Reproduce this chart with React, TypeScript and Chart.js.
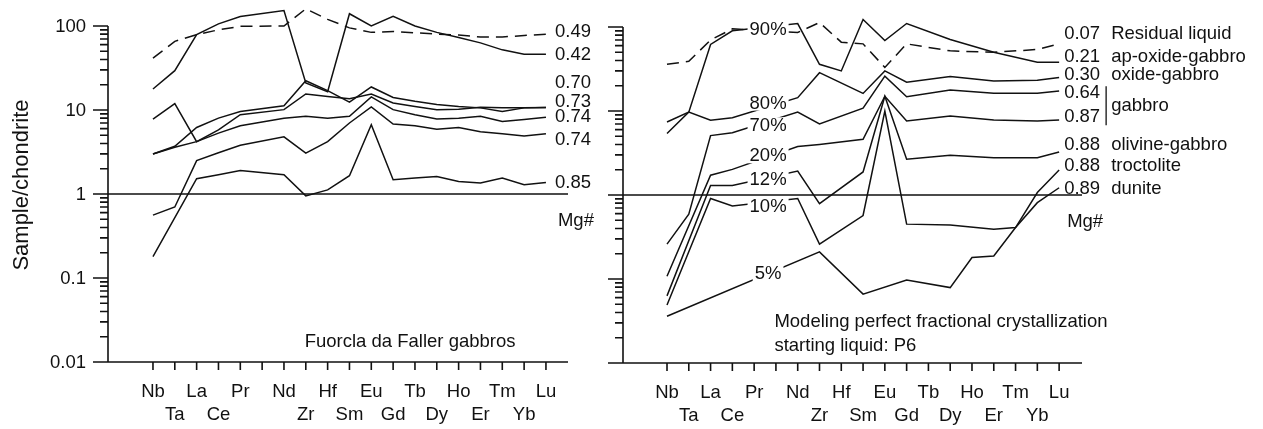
import React, { useEffect, useRef } from "react";
import { Chart, registerables } from "chart.js";

Chart.register(...registerables);

const FONT = '"Liberation Sans", Arial, Helvetica, sans-serif';
const INK = "#111111";

// ---------- shared axis data ----------
const elements = ["Nb", "Ta", "La", "Ce", "Pr", "", "Nd", "Zr", "Hf", "Sm", "Eu", "Gd", "Tb", "Dy", "Ho", "Er", "Tm", "Yb", "Lu"];
const yTickValues = [0.01, 0.1, 1, 10, 100];
const yTickLabels = ["0.01", "0.1", "1", "10", "100"];
const yTitle = "Sample/chondrite";

// ---------- left panel: Fuorcla da Faller gabbros ----------
const leftTitle = "Fuorcla da Faller gabbros";
const leftMg049 = [41.5, 65.6, 79, 90, 99, null, 100, 160, 120, 95, 84, 86, 83, 80, 78, 74, 74, 77, 80];
const leftMg042 = [17.8, 29.4, 79, 106, 130, null, 153, 21, 16.5, 140, 100, 130, 100, 84, 73, 63, 52, 46, 46];
const leftMg070 = [3.0, 3.7, 6.2, 8.0, 9.6, null, 11.2, 22.3, 17, 12.4, 18.8, 14.1, 12.7, 11.6, 11.0, 10.6, 9.6, 10.6, 10.7];
const leftMg073 = [7.8, 11.9, 4.2, 5.8, 8.8, null, 10.1, 15.5, 14.5, 13.6, 15.5, 12.1, 11.0, 10.1, 10.2, 10.8, 10.6, 10.6, 10.7];
const leftMg074a = [3.0, 3.6, 4.2, 5.3, 6.5, null, 8.0, 8.4, 8.0, 8.4, 14.3, 10.1, 8.8, 7.8, 8.0, 8.4, 7.3, 7.7, 8.2];
const leftMg074b = [0.56, 0.7, 2.5, 3.1, 3.8, null, 4.8, 3.07, 4.2, 7.0, 10.9, 6.8, 6.5, 5.9, 6.2, 5.5, 5.2, 4.9, 5.2];
const leftMg085 = [0.18, null, 1.52, 1.7, 1.91, null, 1.7, 0.95, 1.12, 1.65, 6.7, 1.48, 1.55, 1.62, 1.41, 1.35, 1.55, 1.29, 1.37];
const leftMgLabels = ["0.49", "0.42", "0.70", "0.73", "0.74", "0.74", "0.85"];
const leftMgLabelAt = [84, 45.5, 21.1, 12.6, 8.3, 4.43, 1.36];

// ---------- right panel: modelled fractional crystallization ----------
const rightTitle1 = "Modeling perfect fractional crystallization";
const rightTitle2 = "starting liquid: P6";
const rightResidual = [36, 39, 70, 95, null, null, 86, 113, 66, 63, 33, 63, null, 52, null, 50, null, 54, 63];
const right90 = [5.4, 9.7, 62, 90, null, null, 110, 36, 30, 123, 69, 110, null, 71, null, 50, null, 38, 38];
const right80 = [7.4, 9.7, 7.75, 8.3, null, null, 14.4, 28.6, null, 16.2, 30, 22, null, 25.7, null, 22.8, null, 23.2, 25];
const right70 = [0.26, 0.59, 5.1, 5.5, null, null, 9.7, 7.0, null, 10.8, 26, 14.8, null, 17.8, null, 16.3, null, 16.3, 17.3];
const right20 = [0.108, null, 1.72, 2.02, null, null, 3.77, 4.0, null, 4.6, 15, 7.6, null, 8.7, null, 7.8, null, 7.6, 7.8];
const right12 = [0.063, null, 1.3, 1.3, null, null, 1.93, 0.79, null, 1.88, 15, 2.66, null, 2.97, null, 2.78, null, 2.78, 3.25];
const right10 = [0.049, null, 0.91, 0.74, null, null, 0.91, 0.26, null, 0.57, 10, 0.45, null, 0.44, null, 0.39, 0.41, 0.81, 1.22];
const right05 = [0.036, null, null, null, null, null, null, 0.21, null, 0.066, null, 0.097, null, 0.079, 0.18, 0.188, 0.41, 1.07, 1.98];
const pctLabels = ["90%", "80%", "70%", "20%", "12%", "10%", "5%"];
const pctLabelAt = [95.7, 12.6, 6.76, 2.97, 1.54, 0.74, 0.117];
const pctLabelIndex = 4.64;
const rightMgNumbers = ["0.07", "0.21", "0.30", "0.64", "0.87", "0.88", "0.88", "0.89"];
const rightMgNames = ["Residual liquid", "ap-oxide-gabbro", "oxide-gabbro", "", "", "olivine-gabbro", "troctolite", "dunite"];
const rightMgAt = [81.9, 43.6, 26.6, 16.2, 8.41, 3.9, 2.2, 1.17];
const gabbroLabel = "gabbro";
const gabbroAt = 11.4;
const gabbroBracket = [19.7, 6.76];
const mgTitle = "Mg#";
const mgTitleAt = 0.48;

type Series = { values: (number | null)[]; dashed?: boolean };

function buildDatasets(series: Series[]) {
  return series.map((s) => ({
    data: s.values
      .map((v, i) => (v == null ? null : { x: i, y: v }))
      .filter((p) => p !== null),
    borderColor: INK,
    borderWidth: 1.5,
    borderDash: s.dashed ? [12, 7] : [],
    pointRadius: 0,
    fill: false,
    tension: 0,
    clip: false as any,
  }));
}

function drawFrame(chart: any, showTickLabels: boolean) {
  const { ctx, chartArea } = chart;
  const { left, right, bottom } = chartArea;
  const x = chart.scales.x;
  const y = chart.scales.y;
  ctx.save();
  ctx.strokeStyle = INK;
  ctx.lineWidth = 1.6;
  ctx.beginPath();
  const yTop = y.getPixelForValue(yTickValues[yTickValues.length - 1]);
  const yBot = y.getPixelForValue(yTickValues[0]);
  ctx.moveTo(left, yTop);
  ctx.lineTo(left, yBot);
  ctx.moveTo(left, yBot);
  ctx.lineTo(right, yBot);
  yTickValues.forEach((v) => {
    const p = y.getPixelForValue(v);
    ctx.moveTo(left - 15, p);
    ctx.lineTo(left, p);
  });
  for (let d = 0; d < yTickValues.length - 1; d++) {
    for (let k = 2; k <= 9; k++) {
      const p = y.getPixelForValue(yTickValues[d] * k);
      ctx.moveTo(left - 8, p);
      ctx.lineTo(left, p);
    }
  }
  elements.forEach((_, i) => {
    const p = x.getPixelForValue(i);
    ctx.moveTo(p, bottom);
    ctx.lineTo(p, bottom + 8);
  });
  const p1 = y.getPixelForValue(1);
  ctx.moveTo(left, p1);
  ctx.lineTo(right, p1);
  ctx.stroke();

  ctx.fillStyle = INK;
  ctx.font = `18.5px ${FONT}`;
  ctx.textAlign = "center";
  ctx.textBaseline = "middle";
  elements.forEach((e, i) => {
    if (!e) return;
    ctx.fillText(e, x.getPixelForValue(i), i % 2 === 0 ? bottom + 30 : bottom + 53);
  });
  if (showTickLabels) {
    ctx.textAlign = "right";
    yTickValues.forEach((v, i) => {
      ctx.fillText(yTickLabels[i], left - 22, y.getPixelForValue(v) + 1);
    });
    ctx.save();
    ctx.font = `22px ${FONT}`;
    ctx.textAlign = "center";
    ctx.translate(22, 185);
    ctx.rotate(-Math.PI / 2);
    ctx.fillText(yTitle, 0, 0);
    ctx.restore();
  }
  ctx.restore();
}

const leftPlugin = {
  id: "leftDecor",
  afterDatasetsDraw(chart: any) {
    drawFrame(chart, true);
    const { ctx } = chart;
    const x = chart.scales.x;
    const y = chart.scales.y;
    ctx.save();
    ctx.fillStyle = INK;
    ctx.font = `18.5px ${FONT}`;
    ctx.textAlign = "left";
    ctx.textBaseline = "middle";
    const lx = x.getPixelForValue(elements.length - 1) + 9;
    leftMgLabels.forEach((t, i) => ctx.fillText(t, lx, y.getPixelForValue(leftMgLabelAt[i])));
    ctx.fillText(mgTitle, lx + 3, y.getPixelForValue(mgTitleAt));
    ctx.fillText(leftTitle, x.getPixelForValue(6.95), chart.chartArea.bottom - 20);
    ctx.restore();
  },
};

const rightPlugin = {
  id: "rightDecor",
  afterDatasetsDraw(chart: any) {
    drawFrame(chart, false);
    const { ctx } = chart;
    const x = chart.scales.x;
    const y = chart.scales.y;
    ctx.save();
    ctx.font = `18.5px ${FONT}`;
    ctx.textBaseline = "middle";
    // percentage labels interrupting the curves
    ctx.textAlign = "center";
    const px = x.getPixelForValue(pctLabelIndex);
    pctLabels.forEach((t, i) => {
      const py = y.getPixelForValue(pctLabelAt[i]);
      const w = ctx.measureText(t).width;
      ctx.fillStyle = "#ffffff";
      ctx.fillRect(px - w / 2 - 2, py - 8, w + 4, 16);
      ctx.fillStyle = INK;
      ctx.fillText(t, px, py + 1);
    });
    // Mg# and rock-type labels
    ctx.textAlign = "left";
    const nx = x.getPixelForValue(elements.length - 1) + 5;
    rightMgNumbers.forEach((t, i) => {
      const py = y.getPixelForValue(rightMgAt[i]);
      ctx.fillText(t, nx, py);
      if (rightMgNames[i]) ctx.fillText(rightMgNames[i], nx + 47, py);
    });
    ctx.fillText(gabbroLabel, nx + 47, y.getPixelForValue(gabbroAt));
    ctx.strokeStyle = INK;
    ctx.lineWidth = 1.3;
    ctx.beginPath();
    ctx.moveTo(nx + 42, y.getPixelForValue(gabbroBracket[0]));
    ctx.lineTo(nx + 42, y.getPixelForValue(gabbroBracket[1]));
    ctx.stroke();
    ctx.fillText(mgTitle, nx + 3, y.getPixelForValue(mgTitleAt));
    const tx = x.getPixelForValue(4.93);
    ctx.fillText(rightTitle1, tx, chart.chartArea.bottom - 41);
    ctx.fillText(rightTitle2, tx, chart.chartArea.bottom - 17);
    ctx.restore();
  },
};

function Panel(props: {
  left: number;
  width: number;
  padding: { left: number; right: number; top: number; bottom: number };
  xMin: number;
  xMax: number;
  series: Series[];
  plugin: any;
}) {
  const ref = useRef<HTMLCanvasElement | null>(null);
  useEffect(() => {
    if (!ref.current) return;
    const chart = new Chart(ref.current, {
      type: "line",
      data: { datasets: buildDatasets(props.series) as any },
      options: {
        responsive: false,
        animation: false,
        events: [],
        devicePixelRatio: 1,
        layout: { padding: props.padding },
        plugins: { legend: { display: false }, tooltip: { enabled: false } },
        scales: {
          x: { type: "linear", min: props.xMin, max: props.xMax, display: false },
          y: { type: "logarithmic", min: yTickValues[0], max: yTickValues[yTickValues.length - 1], display: false },
        },
      },
      plugins: [props.plugin],
    });
    return () => chart.destroy();
  }, []);
  return (
    <canvas
      ref={ref}
      width={props.width}
      height={429}
      style={{ position: "absolute", left: props.left, top: 0, width: props.width, height: 429, display: "block" }}
    />
  );
}

export default function App() {
  const leftSeries: Series[] = [
    { values: leftMg049, dashed: true },
    { values: leftMg042 },
    { values: leftMg070 },
    { values: leftMg073 },
    { values: leftMg074a },
    { values: leftMg074b },
    { values: leftMg085 },
  ];
  const rightSeries: Series[] = [
    { values: rightResidual, dashed: true },
    { values: right90 },
    { values: right80 },
    { values: right70 },
    { values: right20 },
    { values: right12 },
    { values: right10 },
    { values: right05 },
  ];
  return (
    <div style={{ position: "fixed", left: 0, top: 0, width: 1263, height: 429, background: "#fff", overflow: "hidden" }}>
      <Panel
        left={0}
        width={600}
        padding={{ left: 108, right: 32, top: 26, bottom: 67 }}
        xMin={-2.06}
        xMax={19.01}
        series={leftSeries}
        plugin={leftPlugin}
      />
      <Panel
        left={600}
        width={663}
        padding={{ left: 23, right: 181, top: 27, bottom: 66 }}
        xMin={-2.02}
        xMax={19.05}
        series={rightSeries}
        plugin={rightPlugin}
      />
    </div>
  );
}
